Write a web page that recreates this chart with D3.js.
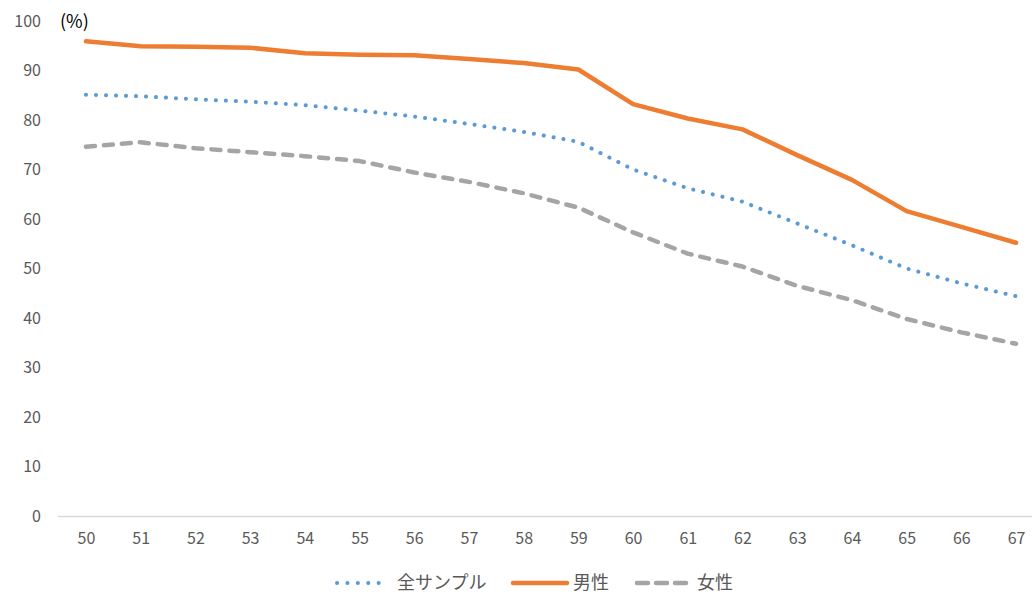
<!DOCTYPE html>
<html>
<head>
<meta charset="utf-8">
<script src="https://cdn.jsdelivr.net/npm/d3@7"></script>
<style>
  html, body { margin: 0; padding: 0; background: #fff; }
  svg { display: block; font-family: "Noto Sans CJK JP", "Noto Sans", sans-serif; }
</style>
</head>
<body>
<svg id="chart" width="1032" height="594"></svg>
<script>
// Ages on the category axis
const ages = [50, 51, 52, 53, 54, 55, 56, 57, 58, 59, 60, 61, 62, 63, 64, 65, 66, 67];

// Share (%) per age
const allSample = [85.1, 84.8, 84.2, 83.7, 83.0, 81.9, 80.7, 79.2, 77.6, 75.6, 70.0, 66.2, 63.5, 59.1, 54.7, 50.0, 47.0, 44.4];
const male      = [95.9, 94.9, 94.8, 94.6, 93.5, 93.2, 93.1, 92.3, 91.5, 90.2, 83.2, 80.3, 78.1, 72.9, 67.9, 61.6, 58.4, 55.2];
const female    = [74.6, 75.5, 74.3, 73.5, 72.7, 71.7, 69.4, 67.5, 65.2, 62.3, 57.3, 53.0, 50.4, 46.5, 43.6, 39.8, 37.1, 34.8];

const yTicks = [0, 10, 20, 30, 40, 50, 60, 70, 80, 90, 100];

const seriesNames = ["全サンプル", "男性", "女性"];
const seriesValues = [allSample, male, female];

const styles = [
  { color: "#5B9BD5", width: 4, dash: "0.1 9.9", cap: "round" },
  { color: "#ED7D31", width: 4.5, dash: null, cap: "round" },
  { color: "#A5A5A5", width: 4.5, dash: "9 9", cap: "round" }
];

const svg = d3.select("#chart");

const x = d3.scalePoint()
  .domain(ages)
  .range([58.6, 1043.4])
  .padding(0.5);

const y = d3.scaleLinear()
  .domain([0, 100])
  .range([516, 21]);

// Y tick labels (no axis line, no gridlines)
const yAxis = d3.axisLeft(y).tickValues(yTicks).tickSize(0).tickPadding(0);
const gy = svg.append("g").attr("transform", "translate(41,0)").call(yAxis);
gy.select(".domain").remove();
gy.selectAll("text")
  .attr("fill", "#595959")
  .style("font-size", "16px")
  .style("font-family", "'Noto Sans CJK JP', sans-serif");

// Horizontal category axis
const xAxis = d3.axisBottom(x).tickSize(0).tickPadding(17);
const gx = svg.append("g").attr("transform", "translate(0,516)").call(xAxis);
gx.select(".domain").remove();
gx.append("line")
  .attr("x1", 58).attr("x2", 1032)
  .attr("y1", 0.5).attr("y2", 0.5)
  .attr("stroke", "#D9D9D9").attr("stroke-width", 1.5);
gx.selectAll("text")
  .attr("fill", "#595959")
  .style("font-size", "16px")
  .style("font-family", "'Noto Sans CJK JP', sans-serif");

// Unit label
svg.append("text")
  .attr("x", 60).attr("y", 28)
  .attr("fill", "#000")
  .style("font-size", "18px")
  .text("(%)");

// Series lines
const line = d3.line()
  .x((d, i) => x(ages[i]))
  .y(d => y(d));

seriesValues.forEach((vals, k) => {
  const s = styles[k];
  svg.append("path")
    .datum(vals)
    .attr("d", line)
    .attr("fill", "none")
    .attr("stroke", s.color)
    .attr("stroke-width", s.width)
    .attr("stroke-linecap", s.cap)
    .attr("stroke-linejoin", "round")
    .attr("stroke-dasharray", s.dash);
});

// Legend
const legendItems = [
  { x1: 337, x2: 388, tx: 397 },
  { x1: 513, x2: 567, tx: 573 },
  { x1: 637, x2: 686, tx: 697 }
];
const lg = svg.append("g");
legendItems.forEach((it, k) => {
  const s = styles[k];
  lg.append("line")
    .attr("x1", it.x1).attr("x2", it.x2)
    .attr("y1", 583).attr("y2", 583)
    .attr("stroke", s.color)
    .attr("stroke-width", s.width)
    .attr("stroke-linecap", s.cap)
    .attr("stroke-dasharray", k === 0 ? "0.1 10.3" : (k === 2 ? "11 8" : null));
  lg.append("text")
    .attr("x", it.tx).attr("y", 583)
    .attr("dy", "0.35em")
    .attr("fill", "#595959")
    .style("font-size", "18px")
    .text(seriesNames[k]);
});
</script>
</body>
</html>
